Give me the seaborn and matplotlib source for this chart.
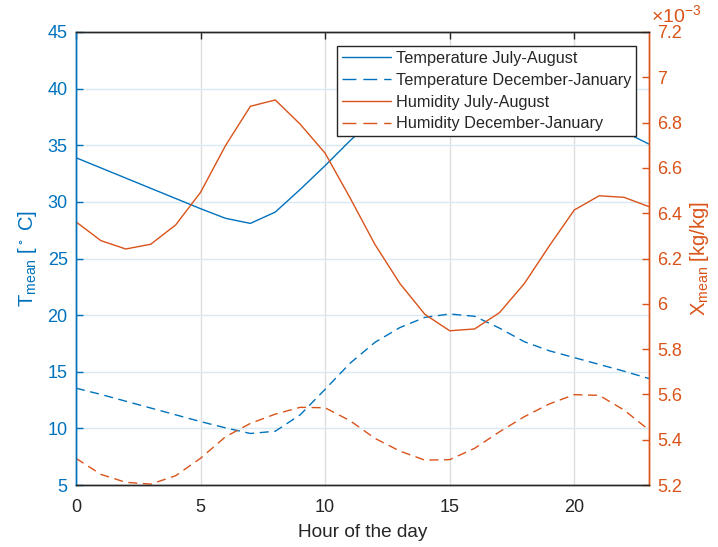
import numpy as np
import pandas as pd
import matplotlib
matplotlib.use("Agg")
import matplotlib.pyplot as plt
import seaborn as sns
from matplotlib.ticker import FixedLocator, FuncFormatter

hours = list(range(24))

# Mean temperature [deg C]
temp_jul_aug = [33.9, 33.0, 32.1, 31.2, 30.3, 29.4, 28.55, 28.1, 29.1, 31.1, 33.2, 35.4,
                37.4, 38.9, 39.9, 40.4, 40.3, 39.8, 39.1, 38.4, 37.7, 37.0, 36.2, 35.1]
temp_dec_jan = [13.55, 13.0, 12.4, 11.8, 11.2, 10.6, 10.05, 9.55, 9.75, 11.2, 13.45, 15.75,
                17.6, 18.9, 19.8, 20.1, 19.9, 18.85, 17.65, 16.85, 16.25, 15.65, 15.05, 14.4]

# Mean humidity ratio [10^-3 kg/kg]
hum_jul_aug = [6.362, 6.279, 6.242, 6.263, 6.348, 6.492, 6.698, 6.872, 6.900, 6.793, 6.665, 6.468,
               6.262, 6.090, 5.954, 5.881, 5.889, 5.961, 6.090, 6.256, 6.414, 6.477, 6.470, 6.429]
hum_dec_jan = [5.318, 5.247, 5.212, 5.204, 5.241, 5.318, 5.413, 5.472, 5.513, 5.543, 5.541, 5.484,
               5.406, 5.350, 5.310, 5.312, 5.362, 5.435, 5.502, 5.558, 5.599, 5.596, 5.531, 5.443]

labels = ["Temperature July-August", "Temperature December-January",
          "Humidity July-August", "Humidity December-January"]

x_ticks = [0, 5, 10, 15, 20]
t_ticks = [5, 10, 15, 20, 25, 30, 35, 40, 45]
h_ticks = [5.2, 5.4, 5.6, 5.8, 6.0, 6.2, 6.4, 6.6, 6.8, 7.0, 7.2]

BLUE = "#0072BD"
ORANGE = "#D95319"
DARK = "#262626"

sns.set_theme(style="white")
plt.rcParams["font.family"] = ["Liberation Sans", "DejaVu Sans"]
plt.rcParams["mathtext.default"] = "regular"

temp_df = pd.DataFrame({
    "hour": hours * 2,
    "value": temp_jul_aug + temp_dec_jan,
    "series": [labels[0]] * 24 + [labels[1]] * 24,
})
hum_df = pd.DataFrame({
    "hour": hours * 2,
    "value": hum_jul_aug + hum_dec_jan,
    "series": [labels[2]] * 24 + [labels[3]] * 24,
})

fig = plt.figure(figsize=(7.18, 5.47), dpi=100)
ax = fig.add_axes([0.1058, 0.1133, 0.7981, 0.8282])
ax2 = ax.twinx()

dash = (6.5, 4)
sns.lineplot(data=temp_df, x="hour", y="value", hue="series", style="series",
             palette=[BLUE, BLUE], dashes=["", dash], linewidth=1.0,
             legend=False, ax=ax)
sns.lineplot(data=hum_df, x="hour", y="value", hue="series", style="series",
             palette=[ORANGE, ORANGE], dashes=["", dash], linewidth=1.0,
             legend=False, ax=ax2)

ax.set_xlim(0, 23)
ax.set_ylim(5, 45)
ax2.set_ylim(5.2, 7.2)

ax.xaxis.set_major_locator(FixedLocator(x_ticks))
ax.yaxis.set_major_locator(FixedLocator(t_ticks))
ax2.yaxis.set_major_locator(FixedLocator(h_ticks))
ax2.yaxis.set_major_formatter(FuncFormatter(lambda v, p: f"{v:g}"))

# grid: grey verticals, blue-tinted horizontals from the left axis
ax.set_axisbelow(True)
ax.grid(True, axis="x", color="#dedede", linewidth=1.0)
ax.grid(True, axis="y", color="#d9eaf5", linewidth=1.0)

fs = 13
ax.tick_params(axis="x", direction="in", length=5, colors=DARK, labelsize=fs,
               top=True, pad=10, width=1.0)
ax.tick_params(axis="y", direction="in", length=5, colors=BLUE, labelsize=fs,
               pad=6, width=1.0)
ax2.tick_params(axis="y", direction="in", length=5, colors=ORANGE, labelsize=fs,
                pad=6, width=1.0)

for a in (ax, ax2):
    for s in a.spines.values():
        s.set_linewidth(1.0)
    a.spines["top"].set_color(DARK)
    a.spines["bottom"].set_color(DARK)
    a.spines["left"].set_color(BLUE)
    a.spines["right"].set_color(ORANGE)

ax.set_xlabel("Hour of the day", fontsize=13.7, color=DARK, labelpad=6)
ax.set_ylabel(r"T$_{mean}$ [$^\circ$ C]", fontsize=14.5, color=BLUE, labelpad=6)
ax2.set_ylabel(r"X$_{mean}$ [kg/kg]", fontsize=14.5, color=ORANGE, labelpad=4)

ax2.text(1.004, 1.013, r"$\times$10$^{-3}$", transform=ax2.transAxes,
         color=ORANGE, fontsize=14, ha="left", va="bottom")

leg_dash = (10, 5)
handles = [
    plt.Line2D([], [], color=BLUE, lw=1.0),
    plt.Line2D([], [], color=BLUE, lw=1.0, dashes=leg_dash),
    plt.Line2D([], [], color=ORANGE, lw=1.0),
    plt.Line2D([], [], color=ORANGE, lw=1.0, dashes=leg_dash),
]
leg = ax2.legend(handles, labels, loc="upper right", bbox_to_anchor=(0.977, 0.969),
                 borderaxespad=0, fontsize=11.7, frameon=True, fancybox=False,
                 framealpha=1.0, edgecolor=DARK, handlelength=3.0,
                 handletextpad=0.3, labelspacing=0.42, borderpad=0.3)
leg.get_frame().set_linewidth(1.0)
for t in leg.get_texts():
    t.set_color(DARK)

fig.savefig("out.png", dpi=100, facecolor="white")
